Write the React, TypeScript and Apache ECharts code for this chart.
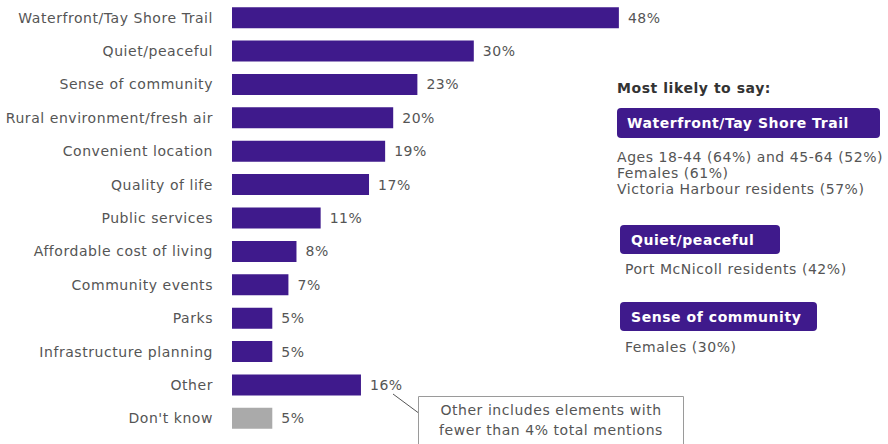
import React, { useEffect, useRef } from "react";
import * as echarts from "echarts";

const categories = [
  "Waterfront/Tay Shore Trail",
  "Quiet/peaceful",
  "Sense of community",
  "Rural environment/fresh air",
  "Convenient location",
  "Quality of life",
  "Public services",
  "Affordable cost of living",
  "Community events",
  "Parks",
  "Infrastructure planning",
  "Other",
  "Don't know",
];
const values = [48, 30, 23, 20, 19, 17, 11, 8, 7, 5, 5, 16, 5];
const greyCategories = ["Don't know"];

const panelTitle = "Most likely to say:";
const groups = [
  { label: "Waterfront/Tay Shore Trail", lines: ["Ages 18-44 (64%) and 45-64 (52%)", "Females (61%)", "Victoria Harbour residents (57%)"] },
  { label: "Quiet/peaceful", lines: ["Port McNicoll residents (42%)"] },
  { label: "Sense of community", lines: ["Females (30%)"] },
];
const noteLines = ["Other includes elements with", "fewer than 4% total mentions"];

const PURPLE = "#3f1a8c";
const FONT = "'DejaVu Sans', Verdana, sans-serif";
const FS = 14;

export default function App() {
  const ref = useRef<HTMLDivElement>(null);
  useEffect(() => {
    if (!ref.current) return;
    const chart = echarts.init(ref.current, undefined, { renderer: "svg" });

    const graphic: any[] = [];
    graphic.push({
      type: "text",
      x: 617,
      y: 88,
      style: { text: panelTitle, font: `bold 14px ${FONT}`, fill: "#333", verticalAlign: "middle" },
    });
    const boxes = [
      { x: 617, y: 108, w: 263, h: 30, tx: 627, textY: 157 },
      { x: 620, y: 225, w: 160, h: 29, tx: 631, textY: 269 },
      { x: 620, y: 302, w: 197, h: 29, tx: 631, textY: 347 },
    ];
    groups.forEach((g, i) => {
      const b = boxes[i];
      graphic.push({
        type: "rect",
        shape: { x: b.x, y: b.y, width: b.w, height: b.h, r: 4 },
        style: { fill: PURPLE },
      });
      graphic.push({
        type: "text",
        x: b.tx,
        y: b.y + b.h / 2,
        style: { text: g.label, font: `bold 14px ${FONT}`, fill: "#fff", verticalAlign: "middle" },
      });
      g.lines.forEach((ln, j) => {
        graphic.push({
          type: "text",
          x: i > 0 ? 625 : 617,
          y: b.textY + j * 16,
          style: { text: ln, font: `${FS}px ${FONT}`, fill: "#555", verticalAlign: "middle" },
        });
      });
    });
    graphic.push({
      type: "line",
      shape: { x1: 393, y1: 394, x2: 420, y2: 414 },
      style: { stroke: "#555", lineWidth: 1 },
    });
    graphic.push({
      type: "rect",
      shape: { x: 418.5, y: 396.5, width: 265, height: 60 },
      style: { fill: "#fff", stroke: "#9a9a9a", lineWidth: 1 },
    });
    noteLines.forEach((t, i) => {
      graphic.push({
        type: "text",
        x: 551,
        y: 410 + i * 20,
        style: { text: t, font: `${FS}px ${FONT}`, fill: "#555", align: "center", verticalAlign: "middle" },
      });
    });

    chart.setOption({
      animation: false,
      grid: { left: 232, right: 253, top: 1, bottom: 9, containLabel: false },
      xAxis: { type: "value", min: 0, max: 50, show: false },
      yAxis: {
        type: "category",
        data: categories,
        inverse: true,
        axisLine: { show: false },
        axisTick: { show: false },
        axisLabel: { margin: 19, fontFamily: FONT, fontSize: FS, color: "#555" },
      },
      series: [
        {
          type: "bar",
          barWidth: 21,
          data: values.map((v, i) => ({
            value: v,
            itemStyle: { color: greyCategories.includes(categories[i]) ? "#aaaaaa" : PURPLE },
          })),
          label: {
            show: true,
            position: "right",
            distance: 9,
            formatter: "{c}%",
            fontFamily: FONT,
            fontSize: FS,
            color: "#555",
          },
        },
      ],
      graphic,
    });
    return () => chart.dispose();
  }, []);
  return (
    <>
      <style>{`#chartbox svg text { letter-spacing: 0.55px; }`}</style>
      <div id="chartbox" ref={ref} style={{ position: "fixed", left: 0, top: 0, width: 888, height: 444, background: "#fff" }} />
    </>
  );
}
